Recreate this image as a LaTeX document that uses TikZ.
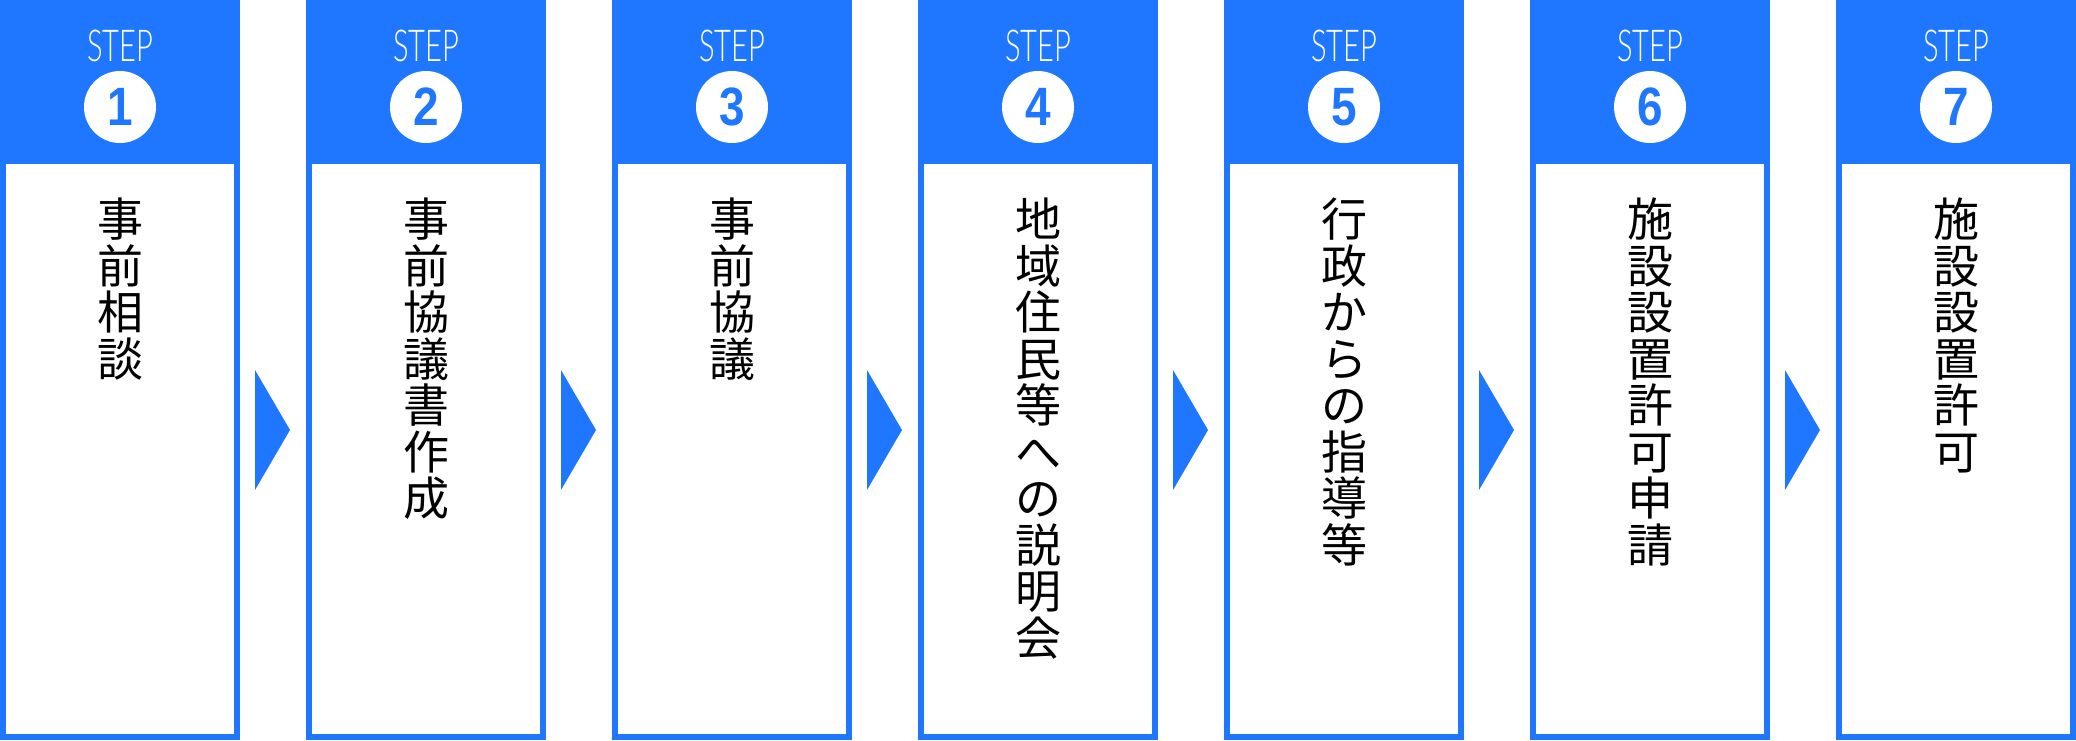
\documentclass[tikz,border=0pt]{standalone}
\usepackage{fontspec}
\newfontfamily\cjk{Noto Sans CJK JP}
\newfontfamily\stepfont[FakeStretch=0.66]{Lato Light}
\newfontfamily\numfont[FakeStretch=0.85]{Liberation Sans Bold}
\definecolor{stepblue}{HTML}{1F77FF}
\tikzset{
  steplabel/.style={inner sep=0, text=white, font=\stepfont\fontsize{44}{44}\selectfont},
  numcircle/.style={circle, fill=white, minimum size=72pt, inner sep=0, text=stepblue, font=\numfont\fontsize{54}{54}\selectfont},
  vtext/.style={anchor=north, inner sep=0, align=center, text=black, font=\cjk\fontsize{46}{46.5}\selectfont},
}
\begin{document}
\begin{tikzpicture}[x=1pt,y=-1pt]
\useasboundingbox (0,0) rectangle (2076,740);
\foreach \i/\t in {1/{事\\前\\相\\談},2/{事\\前\\協\\議\\書\\作\\成},3/{事\\前\\協\\議},4/{地\\域\\住\\民\\等\\へ\\の\\説\\明\\会},5/{行\\政\\か\\ら\\の\\指\\導\\等},6/{施\\設\\設\\置\\許\\可\\申\\請},7/{施\\設\\設\\置\\許\\可}}{
  \pgfmathsetmacro{\xo}{(\i-1)*306}
  \fill[stepblue] (\xo,0) rectangle ++(240,740);
  \fill[white] ({\xo+6},164) rectangle ({\xo+234},734);
  \node[steplabel] (step\i) at ({\xo+120},46) {STEP};
  \node[numcircle] (num\i) at ({\xo+120},107) {\i};
  \node[vtext] (text\i) at ({\xo+120},198) {\t};
}
\foreach \i in {1,...,6}{
  \pgfmathsetmacro{\xo}{(\i-1)*306}
  \coordinate (arrtop\i) at ({\xo+255},370);
  \coordinate (arrtip\i) at ({\xo+290},430);
  \coordinate (arrbot\i) at ({\xo+255},490);
  \fill[stepblue] (arrtop\i) -- (arrtip\i) -- (arrbot\i) -- cycle;
}
\end{tikzpicture}
\end{document}
